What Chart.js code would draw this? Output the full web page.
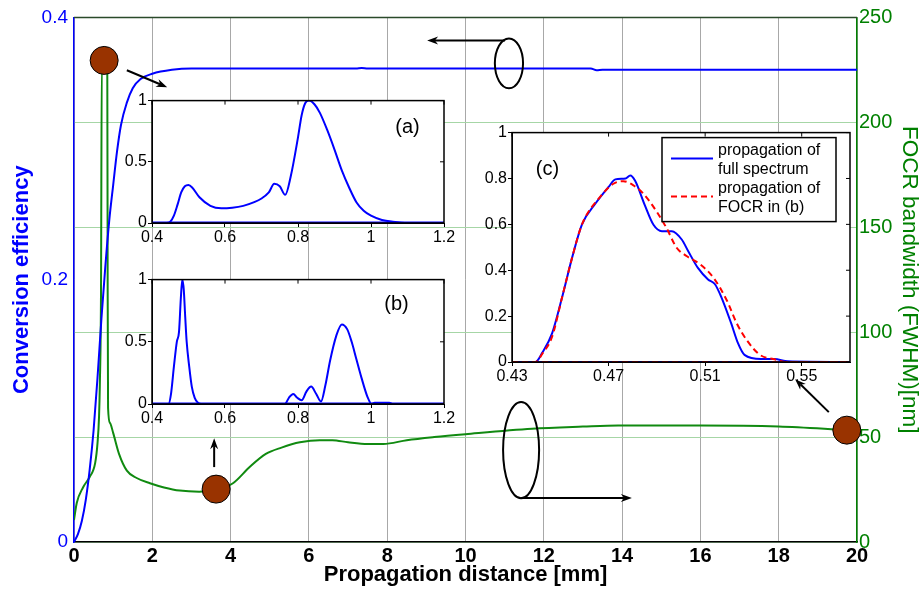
<!DOCTYPE html>
<html>
<head>
<meta charset="utf-8">
<script src="https://cdn.jsdelivr.net/npm/chart.js@4.4.1/dist/chart.umd.min.js"></script>
<style>
  body { margin: 0; background: #fff; }
  #wrap { position: relative; width: 920px; height: 596px; }
  canvas { position: absolute; }
</style>
</head>
<body>
<div id="wrap">
  <canvas id="mainChart" width="920" height="596" style="left:0;top:0;width:920px;height:596px"></canvas>
  <canvas id="insetA" width="350" height="160" style="left:112px;top:90px;width:350px;height:160px"></canvas>
  <canvas id="insetB" width="350" height="160" style="left:112px;top:269px;width:350px;height:160px"></canvas>
  <canvas id="insetC" width="390" height="265" style="left:472px;top:122px;width:390px;height:265px"></canvas>
</div>
<script>
// main plot: conversion efficiency (left axis) and FOCR bandwidth (right axis) vs distance
const effDist = [0, 0.1, 0.2, 0.3, 0.4, 0.5, 0.6, 0.7, 0.8, 0.9, 1.0, 1.1, 1.2, 1.35, 1.5, 1.7, 2.0, 2.5, 3.0, 5.0, 7.2, 7.35, 7.5, 10, 13.2, 13.35, 13.5, 16, 20];
const effVal = [0, 0.006, 0.016, 0.032, 0.055, 0.085, 0.125, 0.17, 0.21, 0.245, 0.272, 0.298, 0.318, 0.335, 0.346, 0.353, 0.357, 0.360, 0.361, 0.361, 0.361, 0.3615, 0.361, 0.361, 0.361, 0.3597, 0.360, 0.360, 0.360];

const bwDist = [0, 0.07, 0.23, 0.4, 0.54, 0.6, 0.64, 0.66, 0.69, 0.71, 0.85, 0.86, 0.87, 0.92, 1.0, 1.15, 1.35, 1.6, 1.94, 2.3, 2.7, 3.2, 3.65, 4.06, 4.5, 4.9, 5.3, 5.77, 6.28, 6.6, 7.0, 7.5, 7.9, 8.5, 9.2, 10, 11.7, 13.0, 13.9, 16, 18, 19.75];
const bwVal = [10.5, 18.6, 26, 31, 37.6, 47, 60, 75, 120, 228, 228, 120, 64, 56.7, 52, 42, 34, 30.5, 28, 26, 24.5, 24, 25, 28, 36, 42, 45, 47.5, 48.5, 48.5, 47.5, 46.7, 46.7, 48.5, 50, 51.4, 54, 55, 55.5, 55.5, 55, 53.3];

// brown markers (distance, bandwidth)
const markerDist = [0.77, 3.63, 19.74];
const markerBw = [229.5, 25.2, 53.3];

// annotations in data units (distance, bandwidth)
const ellipseList = [[11.11, 228.1, 0.36, 11.9], [11.42, 43.8, 0.46, 22.9]];
const arrowList = [
  [11.01, 239, 9.02, 239],
  [11.42, 21, 14.25, 21],
  [1.35, 224.8, 2.38, 216.7],
  [3.58, 35.7, 3.58, 49.5],
  [19.28, 61.9, 18.42, 77.6]
];

// inset (a)
const wlA = [0.4, 0.44, 0.45, 0.46, 0.47, 0.48, 0.49, 0.5, 0.51, 0.53, 0.56, 0.59, 0.62, 0.65, 0.68, 0.7, 0.72, 0.735, 0.75, 0.765, 0.78, 0.8, 0.81, 0.82, 0.83, 0.845, 0.86, 0.88, 0.9, 0.92, 0.94, 0.96, 0.98, 1.0, 1.03, 1.06, 1.1, 1.2];
const specA = [0, 0, 0.01, 0.06, 0.15, 0.25, 0.3, 0.31, 0.29, 0.21, 0.14, 0.12, 0.125, 0.14, 0.17, 0.2, 0.25, 0.32, 0.3, 0.23, 0.38, 0.7, 0.88, 0.98, 1.0, 0.97, 0.9, 0.76, 0.6, 0.43, 0.29, 0.17, 0.1, 0.06, 0.025, 0.01, 0, 0];

// inset (b)
const wlB = [0.4, 0.445, 0.452, 0.46, 0.468, 0.474, 0.479, 0.483, 0.487, 0.491, 0.495, 0.502, 0.509, 0.517, 0.526, 0.535, 0.764, 0.775, 0.787, 0.798, 0.81, 0.823, 0.836, 0.85, 0.863, 0.875, 0.888, 0.905, 0.92, 0.935, 0.947, 0.96, 0.974, 0.99, 1.002, 1.01, 1.05, 1.06, 1.2];
const specB = [0, 0, 0.08, 0.3, 0.5, 0.58, 0.85, 1.0, 0.92, 0.7, 0.5, 0.3, 0.14, 0.05, 0.01, 0, 0, 0.05, 0.08, 0.05, 0.03, 0.1, 0.14, 0.08, 0.02, 0.15, 0.35, 0.55, 0.64, 0.6, 0.5, 0.36, 0.21, 0.06, 0, 0.01, 0.01, 0, 0];

// inset (c)
const wlFull = [0.43, 0.4397, 0.4425, 0.4466, 0.4507, 0.4549, 0.459, 0.4645, 0.47, 0.4728, 0.477, 0.479, 0.481, 0.485, 0.4886, 0.4921, 0.4962, 0.5003, 0.503, 0.507, 0.5112, 0.514, 0.5167, 0.5208, 0.5236, 0.5263, 0.5332, 0.5387, 0.5442, 0.57];
const specFull = [0, 0, 0.04, 0.125, 0.28, 0.455, 0.6, 0.69, 0.763, 0.796, 0.8, 0.813, 0.79, 0.684, 0.598, 0.57, 0.57, 0.534, 0.483, 0.41, 0.36, 0.34, 0.283, 0.168, 0.082, 0.031, 0.013, 0.013, 0.003, 0];
const wlFocr = [0.43, 0.4397, 0.4425, 0.4466, 0.4507, 0.4549, 0.459, 0.4665, 0.472, 0.4761, 0.4803, 0.4844, 0.4899, 0.494, 0.4982, 0.5023, 0.5079, 0.5134, 0.519, 0.5231, 0.5272, 0.5327, 0.5382, 0.5437, 0.57];
const specFocr = [0, 0, 0.035, 0.11, 0.28, 0.455, 0.6, 0.72, 0.777, 0.788, 0.77, 0.734, 0.656, 0.584, 0.498, 0.462, 0.426, 0.368, 0.268, 0.168, 0.096, 0.031, 0.013, 0, 0];

const ticksAB = [0.4, 0.6, 0.8, 1, 1.2];
const ticksHalf = [0, 0.5, 1];
const ticksC = [0.43, 0.47, 0.51, 0.55];
const ticksCy = [0, 0.2, 0.4, 0.6, 0.8, 1];

const FONT = "'Liberation Sans', Arial, sans-serif";
const BLUE = '#0000ff';
const GREEN = '#008000';
Chart.defaults.font.family = FONT;
Chart.defaults.color = '#000';

const pts = (xs, ys) => xs.map((x, i) => ({ x: x, y: ys[i] }));
const fmt = v => String(+Number(v).toFixed(2));

function arrow(ctx, x1, y1, x2, y2) {
  const a = Math.atan2(y2 - y1, x2 - x1);
  const len = 11, hw = 4;
  ctx.beginPath();
  ctx.moveTo(x1, y1);
  ctx.lineTo(x2 - Math.cos(a) * len * 0.7, y2 - Math.sin(a) * len * 0.7);
  ctx.stroke();
  ctx.beginPath();
  ctx.moveTo(x2, y2);
  ctx.lineTo(x2 - Math.cos(a) * len - Math.sin(a) * hw, y2 - Math.sin(a) * len + Math.cos(a) * hw);
  ctx.lineTo(x2 - Math.cos(a) * len * 0.7, y2 - Math.sin(a) * len * 0.7);
  ctx.lineTo(x2 - Math.cos(a) * len + Math.sin(a) * hw, y2 - Math.sin(a) * len - Math.cos(a) * hw);
  ctx.closePath();
  ctx.fill();
}

const mainDecor = {
  id: 'mainDecor',
  afterDatasetsDraw(chart) {
    const { ctx } = chart;
    const xs = chart.scales.x, ys = chart.scales.yR;
    ctx.save();
    ctx.strokeStyle = '#000';
    ctx.fillStyle = '#000';
    ctx.lineWidth = 2;
    ellipseList.forEach(e => {
      const cx = xs.getPixelForValue(e[0]), cy = ys.getPixelForValue(e[1]);
      const rx = xs.getPixelForValue(e[0] + e[2]) - cx;
      const ry = cy - ys.getPixelForValue(e[1] + e[3]);
      ctx.beginPath();
      ctx.ellipse(cx, cy, rx, ry, 0, 0, Math.PI * 2);
      ctx.stroke();
    });
    arrowList.forEach(a => {
      arrow(ctx, xs.getPixelForValue(a[0]), ys.getPixelForValue(a[1]),
        xs.getPixelForValue(a[2]), ys.getPixelForValue(a[3]));
    });
    ctx.restore();
  },
  afterDraw(chart) {
    const { ctx, chartArea } = chart;
    ctx.save();
    ctx.strokeStyle = '#2a4a2a';
    ctx.lineWidth = 1.5;
    ctx.beginPath();
    ctx.moveTo(chartArea.left, chartArea.top);
    ctx.lineTo(chartArea.right, chartArea.top);
    ctx.stroke();
    ctx.restore();
  }
};

new Chart(document.getElementById('mainChart'), {
  type: 'line',
  data: {
    datasets: [
      {
        data: pts(markerDist, markerBw), yAxisID: 'yR', showLine: false,
        pointRadius: 14, pointBackgroundColor: '#993300', pointBorderColor: '#000',
        pointBorderWidth: 1, clip: false, order: -1
      },
      { data: pts(effDist, effVal), yAxisID: 'yL', borderColor: BLUE, borderWidth: 2, pointRadius: 0, cubicInterpolationMode: 'monotone' },
      { data: pts(bwDist, bwVal), yAxisID: 'yR', borderColor: '#108a10', borderWidth: 2, pointRadius: 0, cubicInterpolationMode: 'monotone' }
    ]
  },
  options: {
    responsive: false,
    animation: false,
    layout: { padding: { top: 15, left: 0, right: 0, bottom: 0 } },
    plugins: { legend: { display: false }, tooltip: { enabled: false } },
    elements: { line: { tension: 0 } },
    scales: {
      x: {
        type: 'linear', min: 0, max: 20,
        afterFit: s => { s.height = 54; },
        ticks: { stepSize: 2, color: '#000', font: { size: 20, weight: 'bold' }, padding: 2, maxRotation: 0 },
        grid: { color: '#a8a8a8', drawTicks: false },
        border: { color: '#000', width: 1.5 },
        title: { display: true, text: 'Propagation distance [mm]', color: '#000', font: { size: 22, weight: 'bold', lineHeight: 1.1 }, padding: { top: 0, bottom: 9 } }
      },
      yL: {
        position: 'left', min: 0, max: 0.4,
        afterFit: s => { s.width = 74; },
        ticks: { stepSize: 0.2, color: BLUE, font: { size: 19 }, padding: 6, callback: fmt },
        grid: { drawOnChartArea: false, drawTicks: false },
        border: { color: BLUE, width: 1.5 },
        title: { display: true, text: 'Conversion efficiency', color: BLUE, font: { size: 22, weight: 'bold', lineHeight: 1.1 }, padding: { top: 10, bottom: 0 } }
      },
      yR: {
        position: 'right', min: 0, max: 250,
        afterFit: s => { s.width = 63; },
        ticks: { stepSize: 50, color: GREEN, font: { size: 20 }, padding: 2 },
        grid: { color: '#a6d6a6', drawTicks: false },
        border: { color: GREEN, width: 1.5 },
        title: { display: true, text: 'FOCR bandwidth (FWHM)[nm]', color: GREEN, font: { size: 22.5, lineHeight: 1 }, padding: { top: 0, bottom: 0 } }
      }
    }
  },
  plugins: [mainDecor]
});

// frame, white background, inner ticks, panel label and legend for the insets
const insetFrame = {
  id: 'insetFrame',
  beforeDraw(chart) {
    const { ctx, chartArea: a } = chart;
    ctx.save();
    ctx.fillStyle = '#fff';
    ctx.fillRect(a.left, a.top, a.right - a.left, a.bottom - a.top);
    ctx.restore();
  },
  afterDraw(chart, args, opts) {
    const { ctx, chartArea: a, scales } = chart;
    ctx.save();
    ctx.strokeStyle = '#000';
    ctx.lineWidth = 1.5;
    ctx.strokeRect(a.left, a.top, a.right - a.left, a.bottom - a.top);
    ctx.lineWidth = 1;
    ctx.beginPath();
    scales.x.ticks.forEach(t => {
      const px = scales.x.getPixelForValue(t.value);
      ctx.moveTo(px, a.top); ctx.lineTo(px, a.top + 4);
    });
    scales.y.ticks.forEach(t => {
      const py = scales.y.getPixelForValue(t.value);
      ctx.moveTo(a.right, py); ctx.lineTo(a.right - 4, py);
    });
    ctx.stroke();
    ctx.fillStyle = '#000';
    ctx.font = '20px ' + FONT;
    ctx.textAlign = 'center';
    ctx.textBaseline = 'middle';
    ctx.fillText(opts.label, scales.x.getPixelForValue(opts.labelAt[0]), scales.y.getPixelForValue(opts.labelAt[1]));
    if (opts.legend) {
      const bx = a.right - 188, by = a.top + 5, bw = 174, bh = 84;
      ctx.fillStyle = '#fff';
      ctx.fillRect(bx, by, bw, bh);
      ctx.strokeStyle = '#000';
      ctx.lineWidth = 1.5;
      ctx.strokeRect(bx, by, bw, bh);
      ctx.font = '16px ' + FONT;
      ctx.textAlign = 'left';
      opts.legend.forEach((txt, i) => {
        const ds = chart.data.datasets[opts.legendSets[i]];
        const ly = by + 21 + i * 38;
        ctx.strokeStyle = ds.borderColor;
        ctx.lineWidth = 2;
        ctx.setLineDash(ds.borderDash || []);
        ctx.beginPath();
        ctx.moveTo(bx + 9, ly); ctx.lineTo(bx + 51, ly);
        ctx.stroke();
        ctx.setLineDash([]);
        ctx.fillStyle = '#000';
        txt.split('\n').forEach((line, j) => ctx.fillText(line, bx + 56, ly - 8 + j * 19));
      });
    }
    ctx.restore();
  }
};

function makeInset(id, datasets, o) {
  return new Chart(document.getElementById(id), {
    type: 'line',
    data: { datasets: datasets },
    options: {
      responsive: false,
      animation: false,
      layout: { padding: { top: 8, right: o.padRight, left: 0, bottom: 0 } },
      plugins: {
        legend: { display: false }, tooltip: { enabled: false },
        insetFrame: { label: o.label, labelAt: o.labelAt, legend: o.legend, legendSets: o.legendSets }
      },
      elements: { point: { radius: 0 }, line: { borderWidth: 2, tension: 0, cubicInterpolationMode: 'monotone' } },
      scales: {
        x: {
          type: 'linear', min: o.xMin, max: o.xMax,
          afterBuildTicks: s => { s.ticks = o.xTicks.map(v => ({ value: v })); },
          afterFit: s => { s.height = o.axisH; },
          ticks: { font: { size: 16 }, color: '#000', padding: 1, maxRotation: 0, autoSkip: false, callback: fmt },
          grid: { drawOnChartArea: false, color: '#000', tickLength: 4 },
          border: { color: '#000' }
        },
        y: {
          min: 0, max: 1,
          afterBuildTicks: s => { s.ticks = o.yTicks.map(v => ({ value: v })); },
          afterFit: s => { s.width = 40; },
          ticks: { font: { size: 16 }, color: '#000', padding: 1, autoSkip: false, callback: fmt },
          grid: { drawOnChartArea: false, color: '#000', tickLength: 4 },
          border: { color: '#000' }
        }
      }
    },
    plugins: [insetFrame]
  });
}

makeInset('insetA', [
  { data: pts(wlA, specA), borderColor: BLUE },
  { data: pts([0.4, 1.2], [0, 0]), borderColor: BLUE, borderWidth: 3 }
], { xMin: 0.4, xMax: 1.2, xTicks: ticksAB, yTicks: ticksHalf, padRight: 18, axisH: 27, label: '(a)', labelAt: [1.1, 0.78] });

makeInset('insetB', [
  { data: pts(wlB, specB), borderColor: BLUE },
  { data: pts([0.4, 1.2], [0, 0]), borderColor: BLUE, borderWidth: 3 }
], { xMin: 0.4, xMax: 1.2, xTicks: ticksAB, yTicks: ticksHalf, padRight: 18, axisH: 25, label: '(b)', labelAt: [1.07, 0.8] });

makeInset('insetC', [
  { data: pts(wlFocr, specFocr), borderColor: '#ff0000', borderDash: [6, 4], order: 0 },
  { data: pts(wlFull, specFull), borderColor: BLUE, order: 1 },
  { data: pts([0.43, 0.57], [0, 0]), borderColor: '#ff0000', borderDash: [6, 4], order: 0 },
  { data: pts([0.43, 0.57], [0, 0]), borderColor: BLUE, order: 2 }
], {
  xMin: 0.43, xMax: 0.57, xTicks: ticksC, yTicks: ticksCy, padRight: 12, axisH: 25,
  label: '(c)', labelAt: [0.4447, 0.84],
  legend: ['propagation of\nfull spectrum', 'propagation of\nFOCR in (b)'], legendSets: [1, 0]
});
</script>
</body>
</html>
